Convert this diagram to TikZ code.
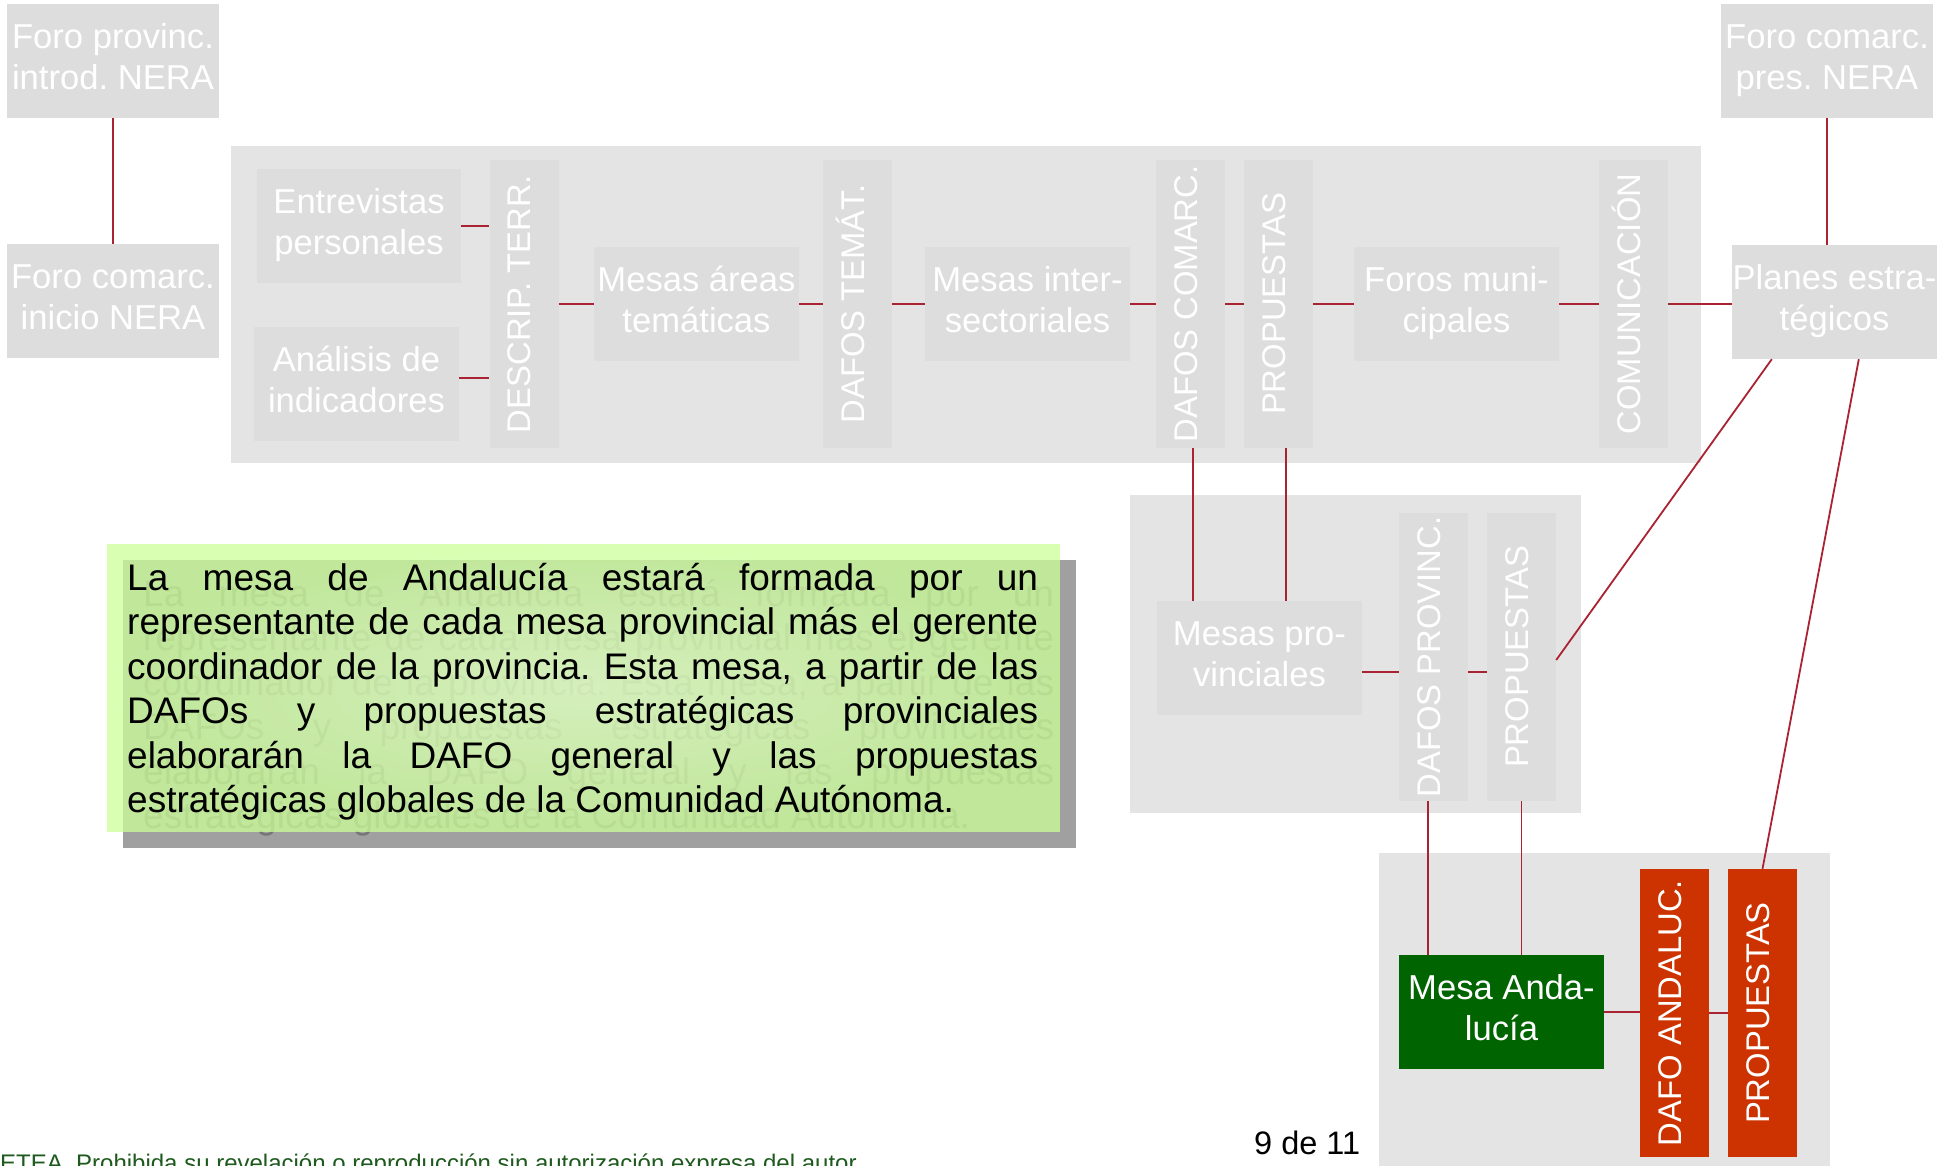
\documentclass[tikz,border=0pt]{standalone}
\usepackage{fontspec}
\setmainfont{Liberation Sans}
\usepackage{graphicx}
\usetikzlibrary{fadings}
\frenchspacing
\definecolor{panelgray}{RGB}{228,228,228}
\definecolor{boxgray}{RGB}{221,221,221}
\definecolor{linkred}{RGB}{170,35,50}
\definecolor{andgreen}{RGB}{0,100,0}
\definecolor{andred}{RGB}{204,51,0}
\definecolor{notegreen}{RGB}{204,255,153}
\definecolor{shadowgray}{RGB}{160,160,160}
\definecolor{ghostgray}{RGB}{118,118,118}
\definecolor{footgreen}{RGB}{30,90,30}
\tikzfading[name=centerglow, inner color=transparent!0, outer color=transparent!100]
% two-line label with normalised height/depth
\newcommand\boxtwo[2]{\rule{0pt}{31pt}#1\\#2\rule[-15pt]{0pt}{15pt}}
% vertical label
\newcommand\vlab[1]{\rotatebox{90}{\rule[-17pt]{0pt}{47pt}#1}}
\begin{document}
\begin{tikzpicture}[x=1pt,y=-1pt,
  hbox/.style={fill=boxgray, text=white, align=center, inner sep=0pt,
    minimum width=205pt, minimum height=114pt, font=\fontsize{34.6}{41.5}\selectfont},
  vbox/.style={fill=boxgray, text=white, inner sep=0pt,
    minimum width=69pt, minimum height=288pt, font=\fontsize{32.8}{39}\selectfont},
  link/.style={draw=linkred, line width=1.8pt},
  noteline/.style={anchor=base west, inner sep=0pt, font=\fontsize{37}{44.5}\selectfont},
]
\useasboundingbox (0,0) rectangle (1940,1166);
\clip (0,0) rectangle (1940,1166);
\fill[white] (0,0) rectangle (1940,1166);
% panels
\fill[panelgray] (231,146) rectangle (1701,463);
\fill[panelgray] (1130,495) rectangle (1581,813);
\fill[panelgray] (1379,853) rectangle (1830,1166);
% boxes
\node[hbox, minimum width=212pt] (fp) at (113,61) {\boxtwo{Foro provinc.}{introd. NERA}};
\node[hbox, minimum width=212pt] (fci) at (113,301) {\boxtwo{Foro comarc.}{inicio NERA}};
\node[hbox, minimum width=212pt] (fpres) at (1827,61) {\boxtwo{Foro comarc.}{pres. NERA}};
\node[hbox] (planes) at (1834.5,302) {\boxtwo{Planes estra-}{tégicos}};
\node[hbox, minimum width=204pt] (ent) at (359,226) {\boxtwo{Entrevistas}{personales}};
\node[hbox] (ana) at (356.5,384) {\boxtwo{Análisis de}{indicadores}};
\node[vbox] (dt) at (524,304) {\vlab{DESCRIP. TERR.}};
\node[hbox] (mat) at (696.5,304) {\boxtwo{Mesas áreas}{temáticas}};
\node[vbox] (dtem) at (857.5,304) {\vlab{DAFOS TEMÁT.}};
\node[hbox] (mint) at (1027.5,304) {\boxtwo{Mesas inter-}{sectoriales}};
\node[vbox] (dcom) at (1190.5,304) {\vlab{DAFOS COMARC.}};
\node[vbox] (prop1) at (1278.5,304) {\vlab{PROPUESTAS}};
\node[hbox] (fmun) at (1456.5,304) {\boxtwo{Foros muni-}{cipales}};
\node[vbox] (com) at (1633.5,304) {\vlab{COMUNICACIÓN}};
\node[hbox] (mp) at (1259.5,658) {\boxtwo{Mesas pro-}{vinciales}};
\node[vbox] (dp) at (1433.5,657) {\vlab{DAFOS PROVINC.}};
\node[vbox] (p2) at (1521.5,657) {\vlab{PROPUESTAS}};
\node[hbox, fill=andgreen] (ma) at (1501.5,1012) {\boxtwo{Mesa Anda-}{lucía}};
\node[vbox, fill=andred] (da) at (1674.5,1013) {\vlab{DAFO ANDALUC.}};
\node[vbox, fill=andred] (pr) at (1762.5,1013) {\vlab{PROPUESTAS}};
% connectors
\draw[link] (fp) -- (fci);
\draw[link] (fpres) -- (fpres |- planes.north);
\draw[link] (ent.east) -- (ent.east -| dt.west);
\draw[link] ([yshift=6pt]ana.east) -- ([yshift=6pt]ana.east -| dt.west);
\draw[link] (dt.east) -- (dt.east -| mat.west);
\draw[link] (mat.east) -- (mat.east -| dtem.west);
\draw[link] (dtem.east) -- (dtem.east -| mint.west);
\draw[link] (mint.east) -- (mint.east -| dcom.west);
\draw[link] (dcom.east) -- (dcom.east -| prop1.west);
\draw[link] (prop1.east) -- (prop1.east -| fmun.west);
\draw[link] (fmun.east) -- (fmun.east -| com.west);
\draw[link] (com.east) -- (com.east -| planes.west);
\draw[link] ([xshift=2.5pt]dcom.south) -- ([xshift=2.5pt]dcom.south |- mp.north);
\draw[link] ([xshift=7.5pt]prop1.south) -- ([xshift=7.5pt]prop1.south |- mp.north);
\draw[link] ([yshift=-14pt]mp.east) -- ([yshift=-14pt]mp.east -| dp.west);
\draw[link] ([yshift=-14pt]mp.east -| dp.east) -- ([yshift=-14pt]mp.east -| p2.west);
\draw[link] ([xshift=-5.5pt]dp.south) -- ([xshift=-5.5pt]dp.south |- ma.north);
\draw[link] (p2.south) -- (p2.south |- ma.north);
\draw[link] (ma.east) -- (ma.east -| da.west);
\draw[link] (da.east) -- (da.east -| pr.west);
\draw[link] ([xshift=40pt]planes.south west) -- ([yshift=-3pt]p2.east);
\draw[link] ([xshift=127pt]planes.south west) -- (pr.north);
% note box: shadow with its text
\fill[shadowgray] (123,560) rectangle (1076,848);
\node[noteline, text=ghostgray] (g1) at (143,606) {\makebox[911pt][s]{La mesa de Andalucía estará formada por un}};
\node[noteline, text=ghostgray] (g2) at (143,650.5) {\makebox[911pt][s]{representante de cada mesa provincial más el gerente}};
\node[noteline, text=ghostgray] (g3) at (143,695) {\makebox[911pt][s]{coordinador de la provincia. Esta mesa, a partir de las}};
\node[noteline, text=ghostgray] (g4) at (143,739.5) {\makebox[911pt][s]{DAFOs y propuestas estratégicas provinciales}};
\node[noteline, text=ghostgray] (g5) at (143,784) {\makebox[911pt][s]{elaborarán la DAFO general y las propuestas}};
\node[noteline, text=ghostgray] (g6) at (143,828.5) {estratégicas globales de la Comunidad Autónoma.};
% note box: translucent green and its text
\fill[notegreen, fill opacity=0.75] (107,544) rectangle (1060,832);
\fill[white, fill opacity=0.35, path fading=centerglow] (107,544) rectangle (1060,832);
\node[noteline] (t1) at (127,590) {\makebox[911pt][s]{La mesa de Andalucía estará formada por un}};
\node[noteline] (t2) at (127,634.5) {\makebox[911pt][s]{representante de cada mesa provincial más el gerente}};
\node[noteline] (t3) at (127,679) {\makebox[911pt][s]{coordinador de la provincia. Esta mesa, a partir de las}};
\node[noteline] (t4) at (127,723.5) {\makebox[911pt][s]{DAFOs y propuestas estratégicas provinciales}};
\node[noteline] (t5) at (127,768) {\makebox[911pt][s]{elaborarán la DAFO general y las propuestas}};
\node[noteline] (t6) at (127,812.5) {estratégicas globales de la Comunidad Autónoma.};
% footer
\node[anchor=base west, inner sep=0pt, text=footgreen, font=\fontsize{24}{28}\selectfont] (foot) at (0,1171) {ETEA. Prohibida su revelación o reproducción sin autorización expresa del autor};
\node[anchor=base west, inner sep=0pt, font=\fontsize{32.5}{38}\selectfont] (page) at (1254,1154) {9 de 11};
\end{tikzpicture}
\end{document}
